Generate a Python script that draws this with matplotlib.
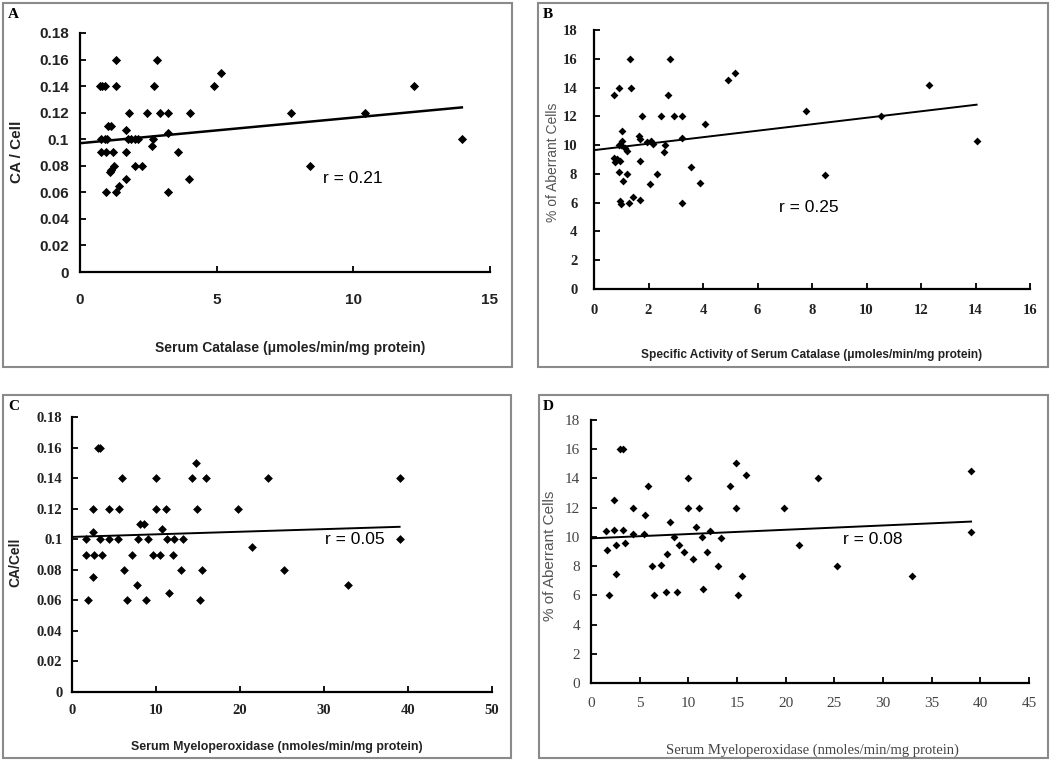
import numpy as np
import matplotlib.pyplot as plt
from matplotlib.patches import Rectangle

W, H = 1050, 762

# ---- panel A : serum catalase vs CA/cell
a_x = [0.72, 0.8, 0.9, 1.31, 1.31, 2.8, 2.7, 4.9, 5.17,
       1.8, 2.45, 2.92, 3.22, 4.04,
       1.03, 1.15, 1.68,
       0.78, 0.9, 0.99, 1.76, 1.88, 2.0, 2.12, 2.67, 3.22,
       2.62,
       0.78, 0.95, 1.2, 1.68, 3.58,
       1.25, 1.12, 1.08, 2.0, 2.26,
       1.7, 1.42, 3.98,
       0.95, 1.31, 3.22,
       7.73, 8.4, 10.44, 12.23, 13.97]
a_y = [0.14, 0.14, 0.14, 0.16, 0.14, 0.16, 0.14, 0.14, 0.15,
       0.12, 0.12, 0.12, 0.12, 0.12,
       0.11, 0.11, 0.107,
       0.1, 0.1, 0.1, 0.1, 0.1, 0.1, 0.1, 0.1, 0.105,
       0.095,
       0.09, 0.09, 0.09, 0.09, 0.09,
       0.08, 0.077, 0.075, 0.08, 0.08,
       0.07, 0.065, 0.07,
       0.06, 0.06, 0.06,
       0.12, 0.08, 0.12, 0.14, 0.1]
a_fit = (0.097, 0.00193)

# ---- panel B : specific activity of catalase vs % aberrant cells
b_x = [0.75, 0.92, 1.32, 1.36, 2.79, 2.73, 4.93, 5.17,
       1.77, 2.46, 2.94, 3.22, 4.07,
       1.02, 1.04, 1.65, 1.69, 1.93, 2.09, 2.18, 3.22,
       0.9, 1.0, 1.14, 1.2, 2.6, 2.58,
       0.75, 0.85, 0.78, 0.95, 1.69, 3.56,
       0.92, 1.22, 2.3, 1.08, 2.06, 3.9,
       0.97, 1.0, 1.28, 1.44, 1.69, 3.22,
       7.77, 8.48, 10.53, 12.29, 14.04]
b_y = [13.5, 14, 16, 14, 16, 13.5, 14.5, 15,
       12, 12, 12, 12, 11.5,
       11, 10.3, 10.6, 10.4, 10.2, 10.3, 10.1, 10.5,
       10, 10, 9.8, 9.6, 10, 9.5,
       9.1, 9.0, 8.8, 8.9, 8.9, 8.5,
       8.1, 8, 8, 7.5, 7.3, 7.4,
       6.1, 5.9, 6.0, 6.4, 6.2, 6.0,
       12.4, 7.9, 12.0, 14.2, 10.3]
b_fit = (9.65, 0.225)

# ---- panel C : myeloperoxidase vs CA/cell
c_x = [3.1, 3.3, 2.46, 2.46, 1.67, 1.67, 2.66, 3.53, 3.33, 2.54, 1.87,
       4.4, 4.4, 5.6, 5.5, 6.0, 6.2, 6.5, 7.2, 7.7, 8.1, 8.6, 7.9, 9.1, 8.8,
       10.0, 10.0, 9.7, 10.5, 10.75, 11.15, 11.35, 12.1, 12.0, 11.5, 13.25, 13.0,
       14.3, 14.8, 14.9, 15.2, 15.5, 16.0, 19.8, 21.4, 23.3, 25.2, 32.8, 39.0, 39.0]
c_y = [0.16, 0.16, 0.12, 0.105, 0.1, 0.09, 0.09, 0.09, 0.1, 0.075, 0.06,
       0.1, 0.12, 0.12, 0.1, 0.14, 0.08, 0.06, 0.09, 0.07, 0.11, 0.11, 0.1, 0.1, 0.06,
       0.14, 0.12, 0.09, 0.09, 0.107, 0.12, 0.1, 0.1, 0.09, 0.065, 0.1, 0.08,
       0.14, 0.15, 0.12, 0.06, 0.08, 0.14, 0.12, 0.095, 0.14, 0.08, 0.07, 0.14, 0.1]
c_fit = (0.1015, 0.00017)

# ---- panel D : myeloperoxidase vs % aberrant cells
d_x = [1.54, 1.68, 1.85, 2.36, 2.36, 2.57, 2.57, 2.98, 3.26, 3.26, 3.5,
       4.35, 4.28, 5.55, 5.48, 5.89, 6.24, 6.5, 7.19, 7.7, 7.78, 8.12, 8.53, 8.8,
       9.04, 9.59, 9.93, 9.93, 10.45, 10.76, 11.13, 11.37, 11.54, 11.95, 12.23,
       13.0, 13.4, 14.29, 14.87, 14.87, 15.14, 15.48, 15.93,
       19.87, 21.38, 23.36, 25.25, 32.96, 39.05, 39.05]
d_y = [10.4, 9.1, 6.0, 12.5, 10.5, 9.45, 7.45, 16, 16, 10.5, 9.6,
       12.0, 10.2, 11.5, 10.2, 13.5, 8.0, 6.0, 8.1, 6.2, 8.8, 11.0, 10.0, 6.2,
       9.45, 8.95, 14.0, 12.0, 8.5, 10.7, 12.0, 10.0, 6.45, 9.0, 10.4,
       8.0, 9.95, 13.5, 15.05, 12.0, 6.0, 7.3, 14.25,
       12.0, 9.45, 14.0, 8.0, 7.35, 14.5, 10.35]
d_fit = (9.9, 0.0294)

a_ticks = [0, 5, 10, 15]
b_ticks = list(range(0, 17, 2))
c_ticks = list(range(0, 51, 10))
d_ticks = list(range(0, 46, 5))
ca_ticks = [0, 0.02, 0.04, 0.06, 0.08, 0.1, 0.12, 0.14, 0.16, 0.18]
pct_ticks = list(range(0, 19, 2))
ca_labels = ['0', '0.02', '0.04', '0.06', '0.08', '0.1', '0.12', '0.14', '0.16', '0.18']

sans = 'Liberation Sans'
serif = 'Liberation Serif'


def fx(px):
    return px / W


def fy(py):
    return 1 - py / H


def axes_px(left, top, right, bottom):
    return fig.add_axes([fx(left), fy(bottom), (right - left) / W, (bottom - top) / H])


def style(ax, xt, yt, ylabels, xlim, ylim, font, weight, size, color, xpad, ypad):
    ax.set_xlim(*xlim)
    ax.set_ylim(*ylim)
    ax.set_xticks(xt)
    ax.set_yticks(yt)
    ax.set_xticklabels([str(t) for t in xt])
    ax.set_yticklabels(ylabels)
    for s in ['top', 'right']:
        ax.spines[s].set_visible(False)
    for s in ['left', 'bottom']:
        ax.spines[s].set_linewidth(1.6)
    ax.tick_params(direction='in', length=4, width=1.3)
    ax.tick_params(axis='x', pad=xpad)
    ax.tick_params(axis='y', pad=ypad)
    for lab in ax.get_xticklabels() + ax.get_yticklabels():
        lab.set_family(font)
        lab.set_weight(weight)
        lab.set_fontsize(size)
        lab.set_color(color)
    ax.patch.set_alpha(0)


fig = plt.figure(figsize=(10.5, 7.62), dpi=100)

# panel frames
for (l, t, r, b) in [(3, 3, 512, 367), (538, 3, 1048, 367), (3, 395, 511, 758), (539, 395, 1048, 758)]:
    fig.patches.append(Rectangle((fx(l), fy(b)), (r - l) / W, (b - t) / H, transform=fig.transFigure,
                                 fill=False, edgecolor='#8a8a8a', linewidth=1.5))

# A
ax = axes_px(80, 33, 490, 272)
ax.scatter(a_x, a_y, marker='D', s=22, c='black', linewidths=0, clip_on=False, zorder=3)
xx = np.array([0, max(a_x)])
ax.plot(xx, a_fit[0] + a_fit[1] * xx, color='black', lw=1.8)
ax.text(8.9, 0.067, 'r = 0.21', fontsize=12.5, family=sans)
style(ax, a_ticks, ca_ticks, ca_labels, (0, 15), (0, 0.18), sans, 'bold', 11, '#222222', 15, 8)
fig.text(fx(17), fy(152), 'CA / Cell', rotation=90, ha='center', va='center', family=sans,
         weight='bold', fontsize=11, color='#222222')
fig.text(fx(290), fy(348), 'Serum Catalase (\u03bcmoles/min/mg protein)', ha='center', va='center',
         family=sans, weight='bold', fontsize=10, color='#222222')
fig.text(fx(8), fy(18), 'A', family=serif, weight='bold', fontsize=11)

# B
ax = axes_px(594, 30, 1030, 289)
ax.scatter(b_x, b_y, marker='D', s=16, c='black', linewidths=0, clip_on=False, zorder=3)
xx = np.array([0, max(b_x)])
ax.plot(xx, b_fit[0] + b_fit[1] * xx, color='black', lw=1.4)
ax.text(6.8, 5.35, 'r = 0.25', fontsize=12.5, family=sans)
style(ax, b_ticks, pct_ticks, [str(t) for t in pct_ticks], (0, 16), (0, 18), serif, 'bold', 10.5,
      '#222222', 11, 12)
fig.text(fx(553), fy(162), '% of Aberrant Cells', rotation=90, ha='center', va='center', family=sans,
         fontsize=10, color='#555555')
fig.text(fx(812), fy(355), 'Specific Activity of Serum Catalase (\u03bcmoles/min/mg protein)',
         ha='center', va='center', family=sans, weight='bold', fontsize=8.6, color='#222222')
fig.text(fx(543), fy(18), 'B', family=serif, weight='bold', fontsize=11)

# C
ax = axes_px(72, 417, 492, 692)
ax.scatter(c_x, c_y, marker='D', s=20, c='black', linewidths=0, clip_on=False, zorder=3)
xx = np.array([0, max(c_x)])
ax.plot(xx, c_fit[0] + c_fit[1] * xx, color='black', lw=1.4)
ax.text(30.1, 0.0995, 'r = 0.05', fontsize=12.5, family=sans, va='center')
style(ax, c_ticks, ca_ticks, ca_labels, (0, 50), (0, 0.18), serif, 'bold', 10.5, '#222222', 9, 7)
fig.text(fx(15), fy(562), 'CA/Cell', rotation=90, ha='center', va='center', family=sans,
         weight='bold', fontsize=10, color='#222222')
fig.text(fx(277), fy(747), 'Serum Myeloperoxidase (nmoles/min/mg protein)', ha='center', va='center',
         family=sans, weight='bold', fontsize=8.9, color='#222222')
fig.text(fx(8), fy(410), 'C', family=serif, weight='bold', fontsize=11)

# D
ax = axes_px(591, 420, 1029, 683)
ax.scatter(d_x, d_y, marker='D', s=16, c='black', linewidths=0, clip_on=False, zorder=3)
xx = np.array([0, max(d_x)])
ax.plot(xx, d_fit[0] + d_fit[1] * xx, color='black', lw=1.4)
ax.text(25.9, 9.8, 'r = 0.08', fontsize=12.5, family=sans, va='center')
style(ax, d_ticks, pct_ticks, [str(t) for t in pct_ticks], (0, 45), (0, 18), serif, 'normal', 11,
      '#444444', 10, 8)
fig.text(fx(550), fy(556), '% of Aberrant Cells', rotation=90, ha='center', va='center', family=sans,
         fontsize=11, color='#555555')
fig.text(fx(812), fy(750), 'Serum Myeloperoxidase (nmoles/min/mg protein)', ha='center', va='center',
         family=serif, fontsize=10.5, color='#444444')
fig.text(fx(543), fy(410), 'D', family=serif, weight='bold', fontsize=11)

fig.savefig('out.png', dpi=100)
